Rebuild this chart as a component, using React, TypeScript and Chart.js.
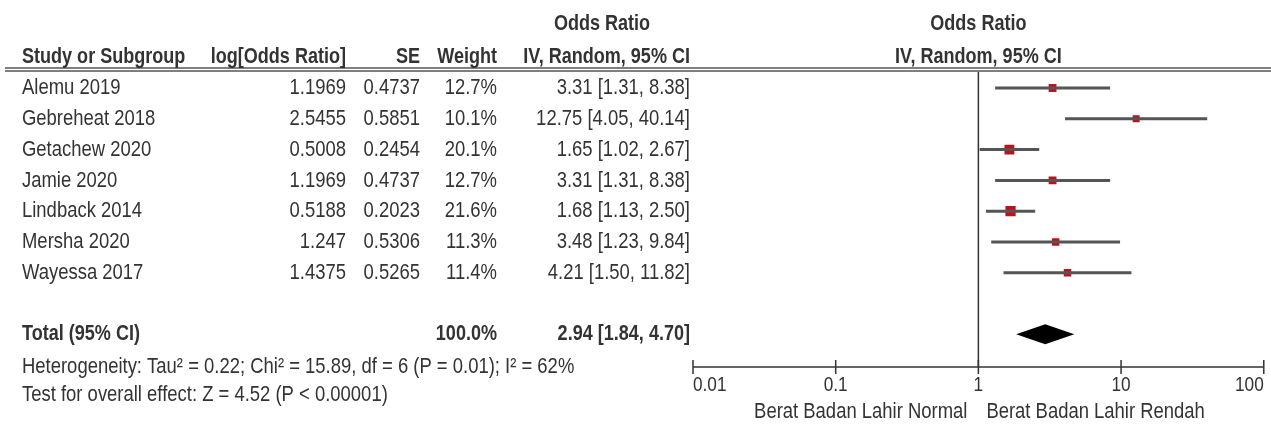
import React, { useEffect, useRef } from 'react';
import { Chart, registerables } from 'chart.js';

Chart.register(...registerables);

// ---- Study data ----
const studies = ['Alemu 2019', 'Gebreheat 2018', 'Getachew 2020', 'Jamie 2020', 'Lindback 2014', 'Mersha 2020', 'Wayessa 2017'];
const logOddsRatios = ['1.1969', '2.5455', '0.5008', '1.1969', '0.5188', '1.247', '1.4375'];
const standardErrors = ['0.4737', '0.5851', '0.2454', '0.4737', '0.2023', '0.5306', '0.5265'];
const weights = [12.7, 10.1, 20.1, 12.7, 21.6, 11.3, 11.4];
const oddsRatios = [3.31, 12.75, 1.65, 3.31, 1.68, 3.48, 4.21];
const ciLower = [1.31, 4.05, 1.02, 1.31, 1.13, 1.23, 1.5];
const ciUpper = [8.38, 40.14, 2.67, 8.38, 2.5, 9.84, 11.82];

// ---- Pooled estimate ----
const totalLabel = 'Total (95% CI)';
const totalWeight = 100.0;
const totalOddsRatio = 2.94;
const totalLower = 1.84;
const totalUpper = 4.7;
const heterogeneityText = 'Heterogeneity: Tau\u00B2 = 0.22; Chi\u00B2 = 15.89, df = 6 (P = 0.01); I\u00B2 = 62%';
const overallEffectText = 'Test for overall effect: Z = 4.52 (P < 0.00001)';

// ---- Axis ----
const axisTicks = [0.01, 0.1, 1, 10, 100];
const axisTickLabels = ['0.01', '0.1', '1', '10', '100'];
const favoursLeft = 'Berat Badan Lahir Normal';
const favoursRight = 'Berat Badan Lahir Rendah';

// ---- Column headers ----
const headerTop = 'Odds Ratio';
const headerStudy = 'Study or Subgroup';
const headerLogOR = 'log[Odds Ratio]';
const headerSE = 'SE';
const headerWeight = 'Weight';
const headerMethod = 'IV, Random, 95% CI';

const TEXT_COLOR = '#333333';
const NARROW = "'Liberation Sans Narrow', 'Arial Narrow'";
const WIDE = "'Liberation Sans', Arial, sans-serif";
const BODY_SIZE = 22.5;
const HEAD_SIZE = 22;

const fmt2 = (v: number) => v.toFixed(2);
const ciText = (est: number, lo: number, hi: number) => `${fmt2(est)} [${fmt2(lo)}, ${fmt2(hi)}]`;

let narrowAvailable = true;

function detectNarrow(ctx: CanvasRenderingContext2D) {
  ctx.save();
  ctx.font = `20px ${NARROW}, monospace`;
  const a = ctx.measureText('Study or Subgroup').width;
  ctx.font = '20px monospace';
  const b = ctx.measureText('Study or Subgroup').width;
  ctx.restore();
  narrowAvailable = Math.abs(a - b) > 0.5;
}

function drawText(
  ctx: CanvasRenderingContext2D,
  text: string,
  x: number,
  y: number,
  align: CanvasTextAlign,
  bold = false,
  size = BODY_SIZE
) {
  ctx.save();
  ctx.fillStyle = TEXT_COLOR;
  ctx.textAlign = align;
  ctx.textBaseline = 'middle';
  if (narrowAvailable) {
    ctx.font = `${bold ? 'bold ' : ''}${size}px ${NARROW}, sans-serif`;
    ctx.fillText(text, x, y);
  } else {
    ctx.font = `${bold ? 'bold ' : ''}${size}px ${WIDE}`;
    ctx.translate(x, y);
    ctx.scale(0.82, 1);
    ctx.fillText(text, 0, 0);
  }
  ctx.restore();
}

// Column anchors (right edges unless noted)
const COL_STUDY = 22;
const COL_LOGOR = 346;
const COL_SE = 420;
const COL_WEIGHT = 497;
const COL_CI = 690;
const COL_CI_CENTER = 602;

const totalRow = studies.length + 1;

const forestPlugin = {
  id: 'forestPlot',
  beforeDatasetsDraw(chart: any) {
    const { ctx, chartArea, scales } = chart;
    const x = scales.x;
    const xOne = x.getPixelForValue(1);
    ctx.save();
    ctx.strokeStyle = '#333333';
    ctx.lineWidth = 1.5;
    ctx.beginPath();
    ctx.moveTo(xOne, chartArea.top);
    ctx.lineTo(xOne, chartArea.bottom);
    ctx.stroke();
    ctx.restore();
  },
  afterDatasetsDraw(chart: any) {
    const { ctx, chartArea, scales, width } = chart;
    const x = scales.x;
    const y = scales.y;

    // pooled diamond
    const yT = y.getPixelForValue(totalRow);
    ctx.save();
    ctx.fillStyle = '#000000';
    ctx.beginPath();
    ctx.moveTo(x.getPixelForValue(totalLower), yT);
    ctx.lineTo(x.getPixelForValue(totalOddsRatio), yT - 10);
    ctx.lineTo(x.getPixelForValue(totalUpper), yT);
    ctx.lineTo(x.getPixelForValue(totalOddsRatio), yT + 10);
    ctx.closePath();
    ctx.fill();
    ctx.restore();

    // x axis with ticks
    const axisY = chartArea.bottom;
    ctx.save();
    ctx.strokeStyle = '#333333';
    ctx.lineWidth = 1.5;
    ctx.beginPath();
    ctx.moveTo(x.getPixelForValue(axisTicks[0]), axisY);
    ctx.lineTo(x.getPixelForValue(axisTicks[axisTicks.length - 1]), axisY);
    axisTicks.forEach((t) => {
      const px = x.getPixelForValue(t);
      ctx.moveTo(px, axisY - 7);
      ctx.lineTo(px, axisY + 7);
    });
    ctx.stroke();
    ctx.restore();
    axisTicks.forEach((t, i) => {
      const px = x.getPixelForValue(t);
      const align: CanvasTextAlign = i === 0 ? 'left' : i === axisTicks.length - 1 ? 'right' : 'center';
      drawText(ctx, axisTickLabels[i], px, axisY + 18, align, false, 21);
    });
    const xOne = x.getPixelForValue(1);
    drawText(ctx, favoursLeft, xOne - 11, axisY + 45, 'right');
    drawText(ctx, favoursRight, xOne + 8, axisY + 45, 'left');

    // header rule (double line)
    ctx.save();
    ctx.strokeStyle = '#555555';
    ctx.lineWidth = 1.3;
    ctx.beginPath();
    ctx.moveTo(5, 68);
    ctx.lineTo(width, 68);
    ctx.moveTo(5, 71);
    ctx.lineTo(width, 71);
    ctx.stroke();
    ctx.restore();

    // headers
    drawText(ctx, headerTop, COL_CI_CENTER, 24, 'center', true, HEAD_SIZE);
    drawText(ctx, headerTop, xOne, 24, 'center', true, HEAD_SIZE);
    drawText(ctx, headerStudy, COL_STUDY, 57, 'left', true, HEAD_SIZE);
    drawText(ctx, headerLogOR, COL_LOGOR, 57, 'right', true, HEAD_SIZE);
    drawText(ctx, headerSE, COL_SE, 57, 'right', true, HEAD_SIZE);
    drawText(ctx, headerWeight, COL_WEIGHT, 57, 'right', true, HEAD_SIZE);
    drawText(ctx, headerMethod, COL_CI, 57, 'right', true, HEAD_SIZE);
    drawText(ctx, headerMethod, xOne, 57, 'center', true, HEAD_SIZE);

    // study rows
    studies.forEach((s, i) => {
      const py = y.getPixelForValue(i);
      drawText(ctx, s, COL_STUDY, py, 'left');
      drawText(ctx, logOddsRatios[i], COL_LOGOR, py, 'right');
      drawText(ctx, standardErrors[i], COL_SE, py, 'right');
      drawText(ctx, `${weights[i].toFixed(1)}%`, COL_WEIGHT, py, 'right');
      drawText(ctx, ciText(oddsRatios[i], ciLower[i], ciUpper[i]), COL_CI, py, 'right');
    });

    // total row + footnotes
    drawText(ctx, totalLabel, COL_STUDY, yT, 'left', true, HEAD_SIZE);
    drawText(ctx, `${totalWeight.toFixed(1)}%`, COL_WEIGHT, yT, 'right', true, HEAD_SIZE);
    drawText(ctx, ciText(totalOddsRatio, totalLower, totalUpper), COL_CI, yT, 'right', true, HEAD_SIZE);
    drawText(ctx, heterogeneityText, COL_STUDY, 367, 'left');
    drawText(ctx, overallEffectText, COL_STUDY, 395, 'left');
  },
};

export default function App() {
  const canvasRef = useRef<HTMLCanvasElement | null>(null);

  useEffect(() => {
    const canvas = canvasRef.current;
    if (!canvas) return;
    const ctx2d = canvas.getContext('2d');
    if (ctx2d) detectNarrow(ctx2d);

    const whiskers = studies.map((s, i) => ({
      label: `${s} CI`,
      data: [
        { x: ciLower[i], y: i },
        { x: ciUpper[i], y: i },
      ],
      showLine: true,
      borderColor: '#555555',
      borderWidth: 3,
      pointRadius: 0,
      borderCapStyle: 'butt' as const,
    }));

    const squares = {
      label: 'Odds ratio',
      data: studies.map((_, i) => ({ x: oddsRatios[i], y: i })),
      pointStyle: 'rect' as const,
      pointRadius: weights.map((w) => (2.2 * Math.sqrt(w)) / (2 * Math.SQRT1_2)),
      backgroundColor: '#c0101a',
      borderWidth: 0,
    };

    const chart = new Chart(canvas, {
      type: 'scatter',
      data: { datasets: [...whiskers, squares] as any },
      options: {
        responsive: false,
        animation: false,
        devicePixelRatio: 1,
        layout: { padding: { left: 693, right: 6, top: 72, bottom: 58 } },
        scales: {
          x: { type: 'logarithmic', min: 0.01, max: 100, display: false },
          y: { type: 'linear', min: -0.52, max: 9.06, reverse: true, display: false },
        },
        plugins: {
          legend: { display: false },
          tooltip: { enabled: false },
        },
      },
      plugins: [forestPlugin],
    });

    return () => chart.destroy();
  }, []);

  return (
    <div style={{ position: 'absolute', left: 0, top: 0, width: 1271, height: 425, background: '#ffffff' }}>
      <canvas ref={canvasRef} width={1271} height={425} style={{ display: 'block', width: 1271, height: 425 }} />
    </div>
  );
}
